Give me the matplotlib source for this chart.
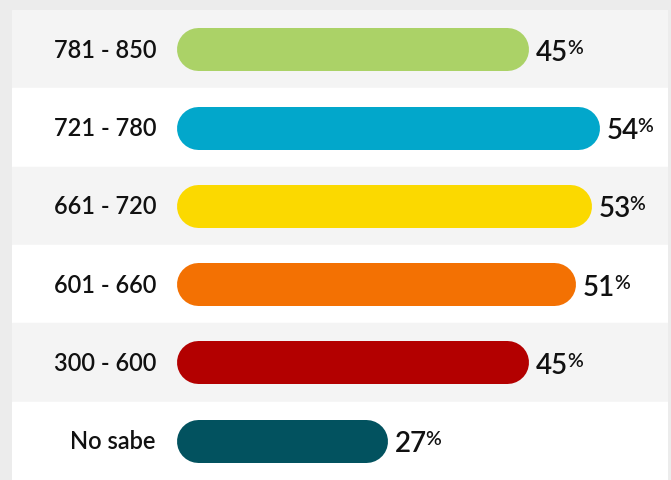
import matplotlib
matplotlib.use("Agg")
import matplotlib.pyplot as plt

plt.rcParams['font.family'] = ['Lato', 'DejaVu Sans']

categories = ['781 - 850', '721 - 780', '661 - 720', '601 - 660', '300 - 600', 'No sabe']
values = [45, 54, 53, 51, 45, 27]
colors = ['#abd267', '#02a7cb', '#fbd900', '#f37103', '#b30000', '#02525f']

fig = plt.figure(figsize=(6.71, 4.81), dpi=100)
fig.patch.set_facecolor('#ececec')

# panel spans most of the figure; bars start 164px in from its left edge
ax = fig.add_axes([12 / 671, 0, 656 / 671, 470 / 481])
px_per_unit = 7.84
ax.set_xlim(-164 / px_per_unit, 492 / px_per_unit)
ax.set_ylim(len(categories), 0)
ax.axis('off')

bar_px = 43
bar_pt = bar_px * 72 / fig.dpi
cap = bar_px / 2 / px_per_unit

for i, (cat, val, col) in enumerate(zip(categories, values, colors)):
    y = i + 0.5
    ax.axhspan(i, i + 1, color='#f4f4f4' if i % 2 == 0 else 'white', zorder=0)
    # rounded bar drawn as a thick line with round caps
    ax.plot([cap, val - cap], [y, y], color=col, lw=bar_pt,
            solid_capstyle='round', zorder=2)
    ax.annotate(cat, xy=(0, y), xytext=(-20 * 0.72, 0), textcoords='offset points',
                ha='right', va='center', fontsize=17, fontweight='semibold',
                color='#111111')
    num = ax.annotate(f'{val}', xy=(val, y), xytext=(7 * 0.72, 0),
                      textcoords='offset points', ha='left', va='center_baseline',
                      fontsize=20, fontweight='semibold', color='#111111')
    # small raised percent sign after the number
    ax.annotate('%', xy=(1, 1.0), xycoords=num, xytext=(-0.8, 0),
                textcoords='offset points', ha='left', va='top',
                fontsize=14, fontweight='semibold', color='#111111')

fig.savefig('out.png', dpi=100, facecolor=fig.get_facecolor())
